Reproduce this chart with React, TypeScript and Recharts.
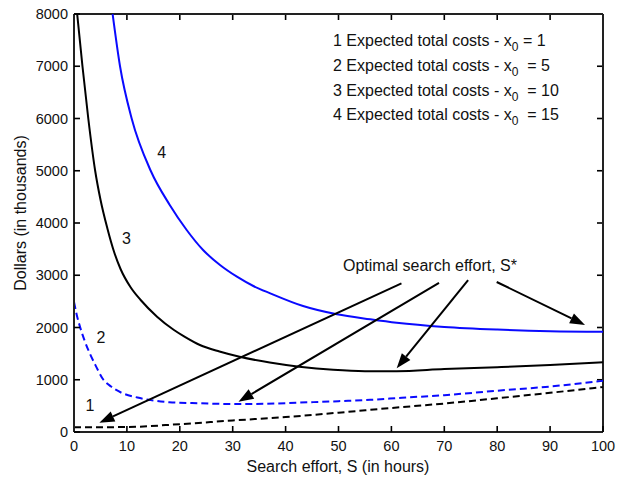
import { LineChart, Line, XAxis, YAxis, ReferenceLine, ReferenceDot } from "recharts"

const xTicks = [0, 10, 20, 30, 40, 50, 60, 70, 80, 90, 100]
const yTicks = [0, 1000, 2000, 3000, 4000, 5000, 6000, 7000, 8000]

// curve 1: expected total costs, x0 = 1 (black dashed)
const c1X = [0, 10, 20, 30, 40, 50, 60, 70, 80, 90, 100]
const c1Y = [90, 95, 150, 220, 285, 370, 460, 545, 645, 750, 860]

// curve 2: x0 = 5 (blue dashed)
const c2X = [0, 0.5, 1, 2, 3, 4, 5.5, 7, 9, 12, 14.5, 18, 24, 30, 36, 42, 50, 56, 62, 70, 80, 90, 100]
const c2Y = [2490, 2250, 2060, 1750, 1500, 1290, 1010, 870, 750, 660, 610, 570, 550, 535, 540, 560, 590, 615, 655, 705, 790, 870, 980]

// curve 3: x0 = 10 (black solid)
const c3X = [0.6, 1.6, 2.7, 4, 5, 6.3, 7.6, 8.8, 10.7, 12.6, 15.7, 18.9, 20.8, 23.8, 27.5, 31.3, 37, 42.6, 49, 55, 61, 70, 80, 90, 100]
const c3Y = [8000, 7000, 6000, 5000, 4450, 3900, 3440, 3120, 2770, 2526, 2207, 1952, 1830, 1665, 1540, 1440, 1330, 1250, 1190, 1165, 1165, 1205, 1240, 1280, 1335]

// curve 4: x0 = 15 (blue solid)
const c4X = [7.3, 8.7, 10.9, 14.5, 18.1, 21.3, 24.4, 27.6, 30.8, 33.9, 37.1, 43.3, 49.7, 56, 61, 70, 80, 90, 100]
const c4Y = [8000, 7000, 6000, 5000, 4345, 3866, 3483, 3196, 2972, 2794, 2654, 2411, 2253, 2157, 2090, 2010, 1960, 1930, 1920]

// arrows to the optimal search effort (start, tip)
const arrowStarts = [
  { x: 61.9, y: 2846 },
  { x: 69.0, y: 2852 },
  { x: 74.5, y: 2909 },
  { x: 79.9, y: 2871 },
]
const arrowTips = [
  { x: 4.8, y: 178 },
  { x: 31.1, y: 580 },
  { x: 61.0, y: 1219 },
  { x: 96.6, y: 2048 },
]

const curveLabels = ["1", "2", "3", "4"]
const curveLabelX = [3.0, 5.1, 9.9, 16.6]
const curveLabelY = [517, 1813, 3707, 5364]

const legendLines = [
  { pre: "1 Expected total costs - x", post: " = 1" },
  { pre: "2 Expected total costs - x", post: "  = 5" },
  { pre: "3 Expected total costs - x", post: "  = 10" },
  { pre: "4 Expected total costs - x", post: "  = 15" },
]

const FONT = "'Liberation Sans', Arial, Helvetica, sans-serif"
const AXIS = "#222"
const BLUE = "#0a0aff"
const TICK = 6

const zip = (xs: number[], ys: number[]) => xs.map((x, i) => ({ x, y: ys[i] }))

const BottomTick = (p: any) => (
  <text x={p.x} y={p.y + 19} textAnchor="middle" fontSize={14.5} fontFamily={FONT} fill="#111">
    {p.payload.value}
  </text>
)
const LeftTick = (p: any) => (
  <text x={p.x - 6} y={p.y + 5} textAnchor="end" fontSize={14.5} fontFamily={FONT} fill="#111">
    {p.payload.value}
  </text>
)

// inward tick marks on the top border (upper end of a vertical segment)
const TopTickMark = (p: any) => {
  const top = Math.min(p.y1, p.y2)
  return <path d={`M${p.x1},${top}V${top + TICK}`} stroke="#000" strokeWidth={1.6} fill="none" />
}
// inward tick marks on the right border (right end of a horizontal segment)
const RightTickMark = (p: any) => {
  const r = Math.max(p.x1, p.x2)
  return <path d={`M${r},${p.y1}H${r - TICK}`} stroke="#000" strokeWidth={1.6} fill="none" />
}

const Arrow = (p: any) => {
  const { x1, y1, x2, y2 } = p
  const dx = x2 - x1
  const dy = y2 - y1
  const len = Math.sqrt(dx * dx + dy * dy)
  const ux = dx / len
  const uy = dy / len
  const head = 15
  const half = 5.5
  const bx = x2 - ux * head
  const by = y2 - uy * head
  return (
    <g>
      <line x1={x1} y1={y1} x2={bx} y2={by} stroke="#000" strokeWidth={2} />
      <polygon
        points={`${x2},${y2} ${bx - uy * half},${by + ux * half} ${bx + uy * half},${by - ux * half}`}
        fill="#000"
      />
    </g>
  )
}

export default function App() {
  return (
    <div style={{ position: "relative", width: 619, height: 479, background: "#fff" }}>
      <style>{"body{margin:0}"}</style>
      <LineChart width={619} height={479} margin={{ top: 14, right: 16, bottom: 0, left: 0 }}>
        <XAxis
          dataKey="x"
          type="number"
          domain={[0, 100]}
          ticks={xTicks}
          allowDataOverflow
          height={47}
          tickSize={-TICK}
          tickMargin={TICK}
          tickLine={{ stroke: "#000", strokeWidth: 1.6 }}
          tick={BottomTick}
          axisLine={{ stroke: AXIS, strokeWidth: 2 }}
        />
        <YAxis
          type="number"
          domain={[0, 8000]}
          ticks={yTicks}
          allowDataOverflow
          width={74}
          tickSize={-TICK}
          tickMargin={TICK}
          tickLine={{ stroke: "#000", strokeWidth: 1.6 }}
          tick={LeftTick}
          axisLine={{ stroke: AXIS, strokeWidth: 2 }}
        />
        {xTicks.map((t) => (
          <ReferenceLine
            key={"xt" + t}
            segment={[{ x: t, y: 0 }, { x: t, y: 8000 }]}
            shape={TopTickMark}
            ifOverflow="visible"
          />
        ))}
        {yTicks.map((t) => (
          <ReferenceLine
            key={"yt" + t}
            segment={[{ x: 0, y: t }, { x: 100, y: t }]}
            shape={RightTickMark}
            ifOverflow="visible"
          />
        ))}
        <ReferenceLine y={8000} stroke={AXIS} strokeWidth={2} />
        <ReferenceLine x={100} stroke={AXIS} strokeWidth={2} />
        <Line data={zip(c1X, c1Y)} dataKey="y" type="monotone" stroke="#000" strokeWidth={2} strokeDasharray="7 4" dot={false} isAnimationActive={false} />
        <Line data={zip(c2X, c2Y)} dataKey="y" type="monotone" stroke={BLUE} strokeWidth={2} strokeDasharray="7 4" dot={false} isAnimationActive={false} />
        <Line data={zip(c3X, c3Y)} dataKey="y" type="monotone" stroke="#000" strokeWidth={2} dot={false} isAnimationActive={false} />
        <Line data={zip(c4X, c4Y)} dataKey="y" type="monotone" stroke={BLUE} strokeWidth={2} dot={false} isAnimationActive={false} />
        {arrowStarts.map((s, i) => (
          <ReferenceLine key={"a" + i} segment={[s, arrowTips[i]]} shape={Arrow} ifOverflow="visible" />
        ))}
        {curveLabels.map((t, i) => (
          <ReferenceDot
            key={"l" + i}
            x={curveLabelX[i]}
            y={curveLabelY[i]}
            r={0}
            shape={(p: any) => (
              <text x={p.cx} y={p.cy + 6} textAnchor="middle" fontSize={16} fontFamily={FONT} fill="#111">
                {t}
              </text>
            )}
          />
        ))}
        <ReferenceDot
          x={50.85}
          y={3196}
          r={0}
          shape={(p: any) => (
            <text x={p.cx} y={p.cy + 6} textAnchor="start" fontSize={16} fontFamily={FONT} fill="#111">
              Optimal search effort, S*
            </text>
          )}
        />
      </LineChart>
      <svg width={619} height={479} style={{ position: "absolute", left: 0, top: 0, pointerEvents: "none" }}>
        {legendLines.map((l, i) => (
          <text key={i} x={333} y={46 + i * 24.8} fontSize={16} fontFamily={FONT} fill="#111">
            {l.pre}
            <tspan fontSize={12} dy={5}>0</tspan>
            <tspan dy={-5} style={{ whiteSpace: "pre" }}>{l.post}</tspan>
          </text>
        ))}
        <text x={338} y={472} textAnchor="middle" fontSize={16} fontFamily={FONT} fill="#111">
          Search effort, S (in hours)
        </text>
        <text
          x={26}
          y={213}
          textAnchor="middle"
          fontSize={16}
          fontFamily={FONT}
          fill="#111"
          transform="rotate(-90 26 213)"
        >
          Dollars (in thousands)
        </text>
      </svg>
    </div>
  )
}
